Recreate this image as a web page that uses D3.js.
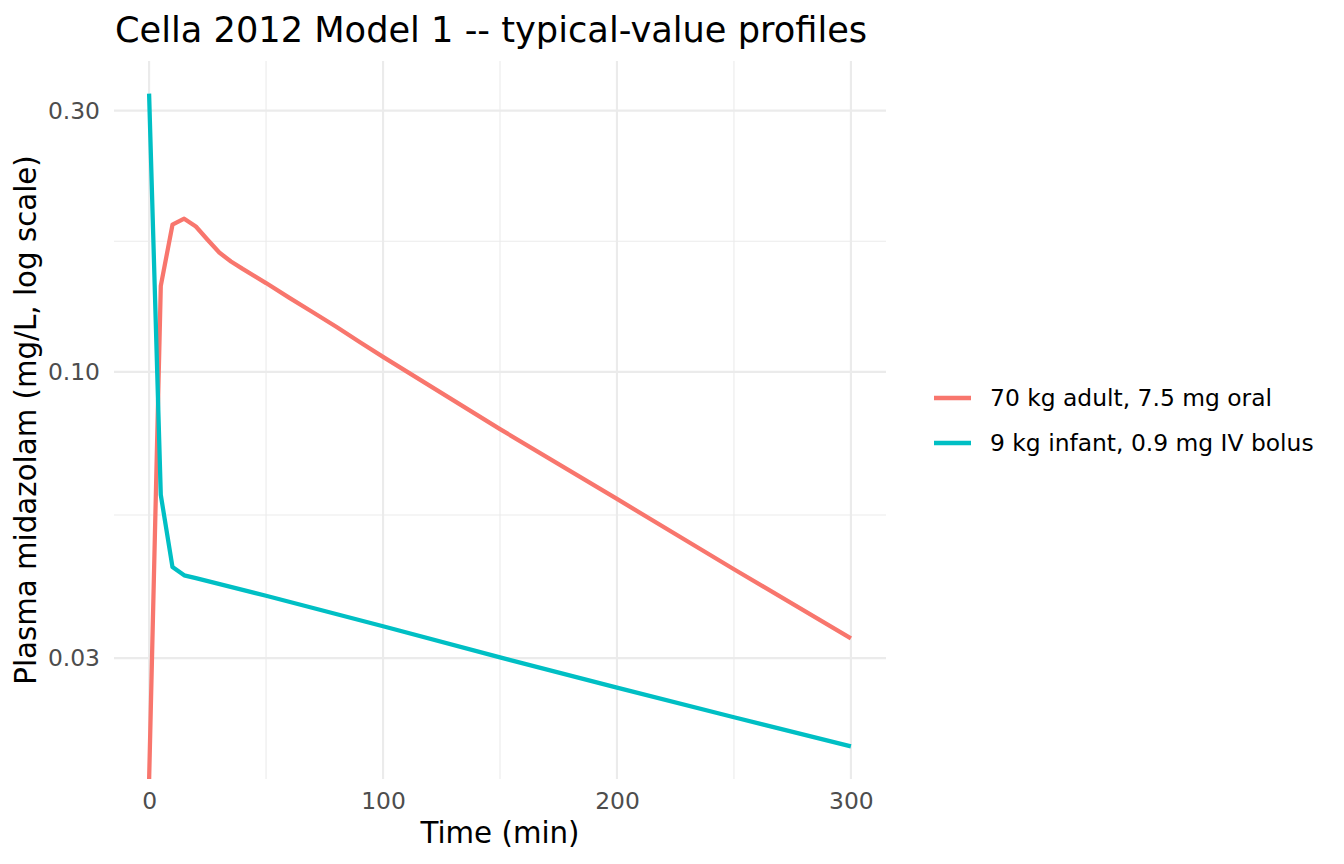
<!DOCTYPE html>
<html>
<head>
<meta charset="utf-8">
<script src="https://cdn.jsdelivr.net/npm/d3@7"></script>
<style>
  body { margin: 0; background: #fff; }
  svg { display: block; font-family: "DejaVu Sans", sans-serif; }
</style>
</head>
<body>
<div id="vis"></div>
<script>
// values (time in min, conc in mg/L)
var adultTime = [0, 5, 10, 15, 20, 25, 30, 35, 40, 50, 60, 70, 80, 90, 100, 150, 200, 250, 300];
var adultConc = [0, 0.1436, 0.1857, 0.1905, 0.1843, 0.1743, 0.1652, 0.1591, 0.1542, 0.1453,
                 0.1365, 0.1285, 0.1209, 0.1134, 0.1065, 0.0786, 0.0586, 0.0436, 0.0326];

var infantTime = [0, 5, 10, 15, 20, 50, 100, 150, 200, 250, 300];
var infantConc = [0.3223, 0.0596, 0.0440, 0.0425, 0.0420, 0.0390, 0.0343, 0.0301, 0.0265, 0.0234, 0.0207];

var seriesNames = ["70 kg adult, 7.5 mg oral", "9 kg infant, 0.9 mg IV bolus"];
var seriesColors = ["#F8766D", "#00BFC4"];

var xBreaks = [0, 100, 200, 300];
var xMinor = [50, 150, 250];
var yBreaks = [0.03, 0.1, 0.3];
var yLabels = ["0.03", "0.10", "0.30"];

var width = 1344, height = 864;
// panel box
var panel = { left: 114, right: 886, top: 61, bottom: 779 };

var svg = d3.select("#vis").append("svg")
  .attr("width", width)
  .attr("height", height);

// ggplot style 5% expansion
var x = d3.scaleLinear()
  .domain([-15, 315])
  .range([panel.left, panel.right]);

var allConc = adultConc.concat(infantConc).filter(function(d) { return d > 0; });
var lmin = Math.log10(d3.min(allConc)), lmax = Math.log10(d3.max(allConc));
var pad = (lmax - lmin) * 0.05;
var y = d3.scaleLog()
  .domain([Math.pow(10, lmin - pad), Math.pow(10, lmax + pad)])
  .range([panel.bottom, panel.top]);

// minor breaks halfway (in log space) between majors
var yMinor = [];
for (var i = 0; i < yBreaks.length - 1; i++) {
  yMinor.push(Math.sqrt(yBreaks[i] * yBreaks[i + 1]));
}

var grid = svg.append("g");

grid.selectAll(".ymin").data(yMinor).enter().append("line")
  .attr("x1", panel.left).attr("x2", panel.right)
  .attr("y1", function(d) { return y(d); }).attr("y2", function(d) { return y(d); })
  .attr("stroke", "#EBEBEB").attr("stroke-width", 1.07);

grid.selectAll(".xmin").data(xMinor).enter().append("line")
  .attr("y1", panel.top).attr("y2", panel.bottom)
  .attr("x1", function(d) { return x(d); }).attr("x2", function(d) { return x(d); })
  .attr("stroke", "#EBEBEB").attr("stroke-width", 1.07);

grid.selectAll(".ymaj").data(yBreaks).enter().append("line")
  .attr("x1", panel.left).attr("x2", panel.right)
  .attr("y1", function(d) { return y(d); }).attr("y2", function(d) { return y(d); })
  .attr("stroke", "#EBEBEB").attr("stroke-width", 2.13);

grid.selectAll(".xmaj").data(xBreaks).enter().append("line")
  .attr("y1", panel.top).attr("y2", panel.bottom)
  .attr("x1", function(d) { return x(d); }).attr("x2", function(d) { return x(d); })
  .attr("stroke", "#EBEBEB").attr("stroke-width", 2.13);

// clip lines to the panel
svg.append("clipPath").attr("id", "clip")
  .append("rect")
  .attr("x", panel.left).attr("y", panel.top)
  .attr("width", panel.right - panel.left)
  .attr("height", panel.bottom - panel.top);

// zero conc -> -Inf on log scale, drawn at panel bottom like ggplot
var line = d3.line()
  .x(function(d) { return x(d[0]); })
  .y(function(d) { return d[1] > 0 ? y(d[1]) : panel.bottom + 2; });

var series = [d3.zip(adultTime, adultConc), d3.zip(infantTime, infantConc)];

svg.append("g").attr("clip-path", "url(#clip)")
  .selectAll("path").data(series).enter().append("path")
  .attr("d", line)
  .attr("fill", "none")
  .attr("stroke", function(d, i) { return seriesColors[i]; })
  .attr("stroke-width", 4.27)
  .attr("stroke-linejoin", "round");

// axes (no tick marks, theme_minimal)
var xAxis = svg.append("g")
  .attr("transform", "translate(0," + panel.bottom + ")")
  .call(d3.axisBottom(x).tickValues(xBreaks).tickSize(0).tickPadding(13));
xAxis.select(".domain").remove();
xAxis.selectAll("text")
  .attr("fill", "#4D4D4D")
  .style("font-size", "23.4px")
  .style("font-family", "DejaVu Sans");

var yAxis = svg.append("g")
  .attr("transform", "translate(" + panel.left + ",0)")
  .call(d3.axisLeft(y).tickValues(yBreaks).tickSize(0).tickPadding(14)
    .tickFormat(function(d, i) { return yLabels[i]; }));
yAxis.select(".domain").remove();
yAxis.selectAll("text")
  .attr("fill", "#4D4D4D")
  .style("font-size", "23.4px")
  .style("font-family", "DejaVu Sans");

// titles
svg.append("text")
  .attr("x", panel.left + 1)
  .attr("y", 42)
  .style("font-size", "35.2px")
  .attr("fill", "#000")
  .text("Cella 2012 Model 1 -- typical-value profiles");

svg.append("text")
  .attr("x", (panel.left + panel.right) / 2)
  .attr("y", 843)
  .attr("text-anchor", "middle")
  .style("font-size", "29.3px")
  .text("Time (min)");

svg.append("text")
  .attr("transform", "translate(36," + ((panel.top + panel.bottom) / 2) + ") rotate(-90)")
  .attr("text-anchor", "middle")
  .style("font-size", "29.3px")
  .text("Plasma midazolam (mg/L, log scale)");

// legend
var legend = svg.append("g").attr("transform", "translate(934,398)");
var items = legend.selectAll("g").data(seriesNames).enter().append("g")
  .attr("transform", function(d, i) { return "translate(0," + (i * 45) + ")"; });
items.append("line")
  .attr("x1", 0).attr("x2", 37)
  .attr("stroke", function(d, i) { return seriesColors[i]; })
  .attr("stroke-width", 4.27);
items.append("text")
  .attr("x", 56)
  .attr("dy", "0.35em")
  .style("font-size", "23.4px")
  .text(function(d) { return d; });
</script>
</body>
</html>
